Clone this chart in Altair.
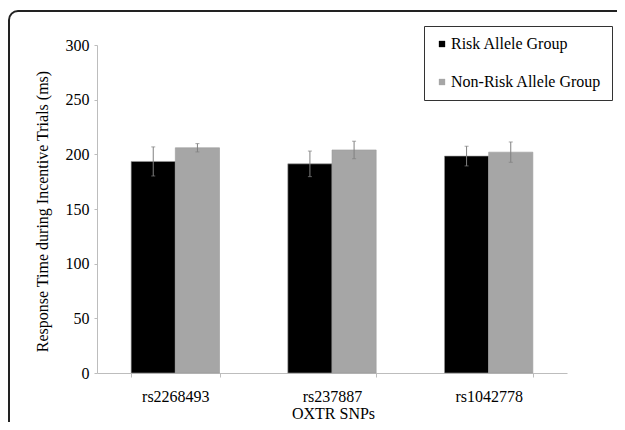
import altair as alt
import pandas as pd

# ---- data ----
snps = ["rs2268493", "rs237887", "rs1042778"]
groups = ["Risk Allele Group", "Non-Risk Allele Group"]
risk_mean = [193.5, 191.3, 198.4]
risk_err = [13.3, 11.7, 9.0]
nonrisk_mean = [206.0, 204.0, 202.0]
nonrisk_err = [3.8, 8.0, 9.3]
y_ticks = [0, 50, 100, 150, 200, 250, 300]
colors = ["#000000", "#a6a6a6"]

rows = []
for i, s in enumerate(snps):
    rows.append({"snp": s, "group": groups[0], "mean": risk_mean[i], "err": risk_err[i]})
    rows.append({"snp": s, "group": groups[1], "mean": nonrisk_mean[i], "err": nonrisk_err[i]})
df = pd.DataFrame(rows)

FONT = "Liberation Serif"
YTITLE = "Response Time during Incentive Trials (ms)"
AX_GREY = "#bdbdbd"
ERR_GREY = "#808080"
TXT = "#000000"

x_enc = alt.X(
    "snp:N",
    sort=snps,
    title="OXTR SNPs",
    scale=alt.Scale(paddingInner=0.436, paddingOuter=0.218),
    axis=alt.Axis(
        labelAngle=0,
        labelFont=FONT,
        labelFontSize=16,
        labelColor=TXT,
        labelPadding=11,
        tickBand="extent",
        tickSize=4,
        tickColor=AX_GREY,
        domainColor=AX_GREY,
        grid=False,
        titleFont=FONT,
        titleFontSize=16,
        titleFontWeight="normal",
        titleColor=TXT,
        titleX=236,
        titleY=32,
        titleAlign="center",
        titleBaseline="top",
    ),
)
xoff_enc = alt.XOffset("group:N", sort=groups, scale=alt.Scale(domain=groups, paddingInner=0, paddingOuter=0))

base = alt.Chart(df).transform_calculate(
    lo="datum.mean - datum.err", hi="datum.mean + datum.err"
).encode(x=x_enc, xOffset=xoff_enc)

bars = base.mark_bar(stroke="#9a9a9a", strokeWidth=0.6).encode(
    y=alt.Y(
        "mean:Q",
        title=YTITLE,
        scale=alt.Scale(domain=[0, 300], nice=False),
        axis=alt.Axis(
            values=y_ticks,
            grid=False,
            labelFont=FONT,
            labelFontSize=16,
            labelColor=TXT,
            labelPadding=5,
            tickSize=3,
            tickColor=AX_GREY,
            domainColor=AX_GREY,
            titleFont=FONT,
            titleFontSize=16,
            titleFontWeight="normal",
            titleColor=TXT,
            titleAngle=270,
            titleX=-55,
            titleY=166,
            titleAlign="center",
            titleBaseline="middle",
        ),
    ),
    color=alt.Color(
        "group:N",
        sort=groups,
        scale=alt.Scale(domain=groups, range=colors),
        legend=alt.Legend(
            title=None,
            orient="none",
            legendX=327,
            legendY=-19,
            direction="vertical",
            strokeColor="#333333",
            fillColor="white",
            padding=10,
            rowPadding=22,
            symbolType="square",
            symbolSize=40,
            symbolStrokeWidth=0,
            labelFont=FONT,
            labelFontSize=16,
            labelColor=TXT,
            labelOffset=1,
        ),
    ),
)

rules = base.mark_rule(color=ERR_GREY, strokeWidth=1).encode(
    y=alt.Y("lo:Q", title=YTITLE), y2="hi:Q"
)
caps_lo = base.mark_tick(color=ERR_GREY, thickness=1, size=4).encode(y=alt.Y("lo:Q", title=YTITLE))
caps_hi = base.mark_tick(color=ERR_GREY, thickness=1, size=4).encode(y=alt.Y("hi:Q", title=YTITLE))

frame = alt.Chart(pd.DataFrame({"a": [0]})).mark_rect(
    fill="transparent", stroke="#222222", strokeWidth=2, cornerRadius=9
).encode(
    x=alt.value(-88), x2=alt.value(700), y=alt.value(-34), y2=alt.value(500)
)

chart = alt.layer(frame, bars, rules, caps_lo, caps_hi).properties(
    width=470,
    height=328,
    autosize="none",
    padding={"left": 89, "top": 37, "right": 50, "bottom": 49},
    background="white",
).configure_view(stroke="transparent")

chart.save("out.html", embed_options={"renderer": "svg", "actions": False})
